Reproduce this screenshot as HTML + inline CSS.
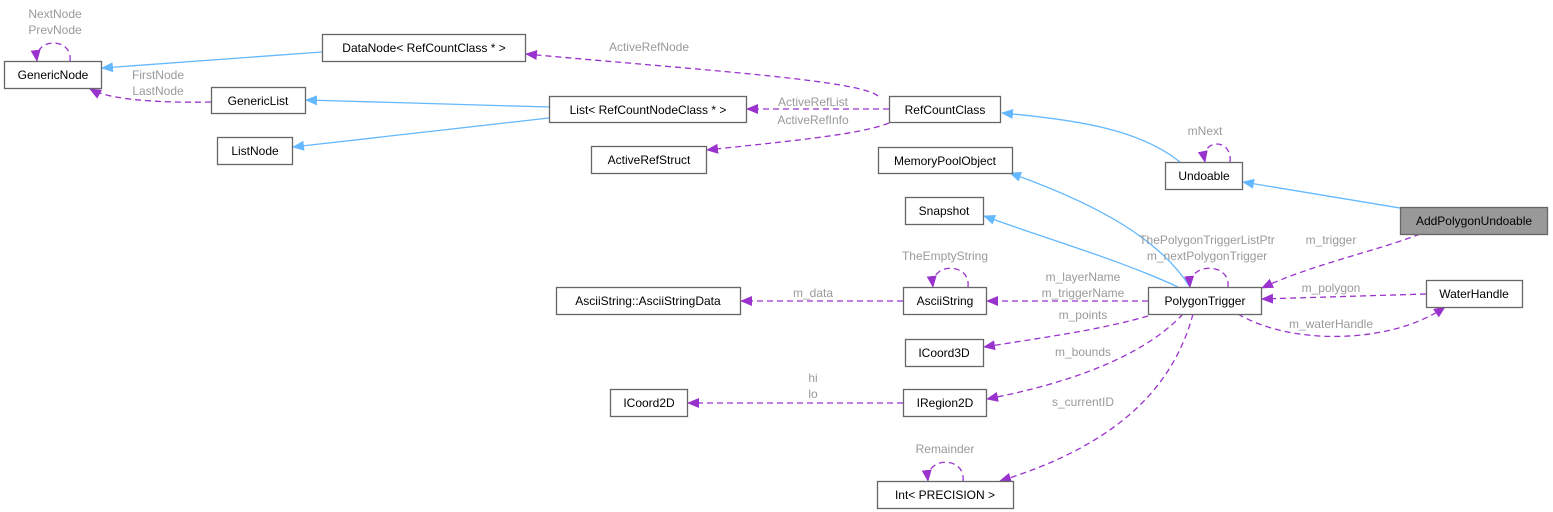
<!DOCTYPE html>
<html><head><meta charset="utf-8"><style>
html,body{margin:0;padding:0;background:#fff;}
svg{display:block;}
text{font-family:"Liberation Sans",Helvetica,Arial,sans-serif;font-size:12px;}
.n{fill:#fff;stroke:#666;stroke-width:1.3;}
.t{fill:#000;text-anchor:middle;}
.l{fill:#9a9a9a;text-anchor:middle;}
.b{fill:none;stroke:#63b8ff;stroke-width:1.3;}
.d{fill:none;stroke:#9a32cd;stroke-width:1.3;stroke-dasharray:6,4;}
</style></head><body>
<svg width="1553" height="512" viewBox="0 0 1553 512" xmlns="http://www.w3.org/2000/svg">
<defs>
<marker id="ab" markerWidth="12" markerHeight="10" refX="11" refY="5" orient="auto" markerUnits="userSpaceOnUse"><path d="M0,0 L12,5 L0,10 z" fill="#63b8ff"/></marker>
<marker id="ap" markerWidth="12" markerHeight="10" refX="11" refY="5" orient="auto" markerUnits="userSpaceOnUse"><path d="M0,0 L12,5 L0,10 z" fill="#9a32cd"/></marker>
</defs>

<path class="b" d="M322,52 L102,68" marker-end="url(#ab)"/>
<path class="b" d="M549,107 L306,100" marker-end="url(#ab)"/>
<path class="b" d="M549,118 L293,147" marker-end="url(#ab)"/>
<path class="b" d="M1180,162 C1140,130 1080,120 1002,113" marker-end="url(#ab)"/>
<path class="b" d="M1400,208 L1243,182" marker-end="url(#ab)"/>
<path class="b" d="M1190,287 C1160,240 1100,205 1010,173" marker-end="url(#ab)"/>
<path class="b" d="M1178,287 C1120,260 1050,240 984,216" marker-end="url(#ab)"/>

<path class="d" d="M70,61 C73,37 34,37 37,61" marker-end="url(#ap)"/>
<path class="d" d="M878,96 C860,80 700,70 526,54" marker-end="url(#ap)"/>
<path class="d" d="M211,102 C160,103 110,100 90,89" marker-end="url(#ap)"/>
<path class="d" d="M889,109 L747,109" marker-end="url(#ap)"/>
<path class="d" d="M889,123 C860,135 780,142 707,150" marker-end="url(#ap)"/>
<path class="d" d="M1230,162 C1233,138 1200,138 1205,162" marker-end="url(#ap)"/>
<path class="d" d="M1420,234 C1380,250 1310,265 1262,288" marker-end="url(#ap)"/>
<path class="d" d="M1228,287 C1231,262 1188,262 1190,287" marker-end="url(#ap)"/>
<path class="d" d="M968,287 C971,262 930,262 933,287" marker-end="url(#ap)"/>
<path class="d" d="M1426,294 L1262,299" marker-end="url(#ap)"/>
<path class="d" d="M1238,314 C1290,345 1390,345 1445,307" marker-end="url(#ap)"/>
<path class="d" d="M1148,301 L987,301" marker-end="url(#ap)"/>
<path class="d" d="M903,301 L741,301" marker-end="url(#ap)"/>
<path class="d" d="M1148,316 C1100,330 1040,338 984,347" marker-end="url(#ap)"/>
<path class="d" d="M1183,314 C1140,360 1060,385 987,399" marker-end="url(#ap)"/>
<path class="d" d="M903,403 L688,403" marker-end="url(#ap)"/>
<path class="d" d="M1193,314 C1170,400 1100,450 1000,481" marker-end="url(#ap)"/>
<path class="d" d="M963,481 C966,456 925,456 928,481" marker-end="url(#ap)"/>

<text class="l" x="55" y="18">NextNode</text>
<text class="l" x="55" y="34">PrevNode</text>
<text class="l" x="158" y="79">FirstNode</text>
<text class="l" x="158" y="95">LastNode</text>
<text class="l" x="649" y="51">ActiveRefNode</text>
<text class="l" x="813" y="106">ActiveRefList</text>
<text class="l" x="813" y="124">ActiveRefInfo</text>
<text class="l" x="1205" y="135">mNext</text>
<text class="l" x="1207" y="244">ThePolygonTriggerListPtr</text>
<text class="l" x="1207" y="260">m_nextPolygonTrigger</text>
<text class="l" x="1331" y="244">m_trigger</text>
<text class="l" x="945" y="260">TheEmptyString</text>
<text class="l" x="1083" y="281">m_layerName</text>
<text class="l" x="1083" y="297">m_triggerName</text>
<text class="l" x="813" y="297">m_data</text>
<text class="l" x="1331" y="292">m_polygon</text>
<text class="l" x="1331" y="328">m_waterHandle</text>
<text class="l" x="1083" y="319">m_points</text>
<text class="l" x="1083" y="356">m_bounds</text>
<text class="l" x="813" y="382">hi</text>
<text class="l" x="813" y="398">lo</text>
<text class="l" x="1083" y="406">s_currentID</text>
<text class="l" x="945" y="453">Remainder</text>

<rect class="n" x="4.5" y="61.5" width="97" height="27"/><text class="t" x="53" y="79">GenericNode</text>
<rect class="n" x="322.5" y="34.5" width="203" height="27"/><text class="t" x="424" y="52">DataNode&lt; RefCountClass * &gt;</text>
<rect class="n" x="211.5" y="87.5" width="94" height="26"/><text class="t" x="258" y="105">GenericList</text>
<rect class="n" x="549.5" y="96.5" width="197" height="26"/><text class="t" x="648" y="114">List&lt; RefCountNodeClass * &gt;</text>
<rect class="n" x="217.5" y="137.5" width="75" height="27"/><text class="t" x="255" y="155">ListNode</text>
<rect class="n" x="591.5" y="146.5" width="115" height="27"/><text class="t" x="649" y="164">ActiveRefStruct</text>
<rect class="n" x="889.5" y="96.5" width="111" height="26"/><text class="t" x="945" y="114">RefCountClass</text>
<rect class="n" x="878.5" y="147.5" width="134" height="26"/><text class="t" x="945" y="165">MemoryPoolObject</text>
<rect class="n" x="1165.5" y="162.5" width="77" height="27"/><text class="t" x="1204" y="180">Undoable</text>
<rect class="n" x="905.5" y="197.5" width="78" height="27"/><text class="t" x="944" y="215">Snapshot</text>
<rect x="1400.5" y="207.5" width="147" height="27" fill="#999" stroke="#666" stroke-width="1.3"/><text class="t" x="1474" y="225">AddPolygonUndoable</text>
<rect class="n" x="556.5" y="287.5" width="184" height="27"/><text class="t" x="648" y="305">AsciiString::AsciiStringData</text>
<rect class="n" x="903.5" y="287.5" width="83" height="27"/><text class="t" x="945" y="305">AsciiString</text>
<rect class="n" x="1148.5" y="287.5" width="113" height="27"/><text class="t" x="1205" y="305">PolygonTrigger</text>
<rect class="n" x="1426.5" y="280.5" width="96" height="27"/><text class="t" x="1474" y="298">WaterHandle</text>
<rect class="n" x="905.5" y="339.5" width="78" height="27"/><text class="t" x="944" y="357">ICoord3D</text>
<rect class="n" x="610.5" y="389.5" width="77" height="27"/><text class="t" x="649" y="407">ICoord2D</text>
<rect class="n" x="903.5" y="389.5" width="83" height="27"/><text class="t" x="945" y="407">IRegion2D</text>
<rect class="n" x="877.5" y="481.5" width="136" height="27"/><text class="t" x="945" y="499">Int&lt; PRECISION &gt;</text>
</svg>
</body></html>
